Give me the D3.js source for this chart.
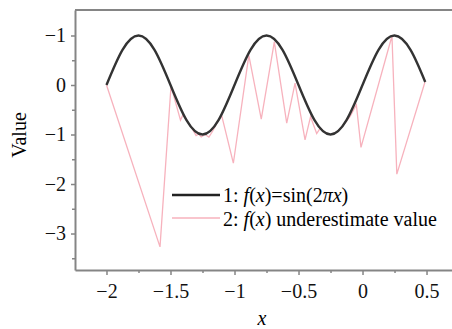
<!DOCTYPE html>
<html>
<head>
<meta charset="utf-8">
<script src="https://cdn.jsdelivr.net/npm/d3@7"></script>
<style>
  body { margin: 0; background: #fff; }
  svg text { font-family: "Liberation Serif", "DejaVu Serif", serif !important; }
</style>
</head>
<body>
<div class="chart"></div>
<script>
// black curve
const sinX = [-2, -1.875, -1.75, -1.625, -1.5, -1.375, -1.25, -1.125, -1, -0.875, -0.75, -0.625, -0.5, -0.375, -0.25, -0.125, 0, 0.125, 0.25, 0.375, 0.49];
const sinY = [0, 0.71, 1, 0.71, 0, -0.71, -1, -0.71, 0, 0.71, 1, 0.71, 0, -0.71, -1, -0.71, 0, 0.71, 1, 0.71, 0.06];

// pink "underestimate" polyline
const lowX = [-2, -1.582, -1.496, -1.422, -1.40, -1.36, -1.33, -1.30, -1.28, -1.26, -1.23, -1.20, -1.17, -1.14, -1.10, -1.009, -0.888, -0.791, -0.689, -0.592, -0.527, -0.449, -0.406, -0.358, -0.33, -0.30, -0.25, -0.20, -0.15, -0.098, -0.048, -0.012, 0.230, 0.268, 0.488];
const lowY = [0, -3.27, -0.02, -0.71, -0.59, -0.77, -0.88, -1.02, -0.99, -1.05, -1.0, -1.05, -0.93, -0.78, -0.62, -1.58, 0.6, -0.69, 0.87, -0.77, 0.04, -1.11, -0.64, -0.98, -0.87, -0.95, -1.0, -0.95, -0.81, -0.64, -0.40, -1.26, 0.99, -1.80, 0.06];

const xTicks = [-2, -1.5, -1, -0.5, 0, 0.5];
const xTickLabels = ["−2", "−1.5", "−1", "−0.5", "0", "0.5"];
const xMinor = [-1.75, -1.25, -0.75, -0.25, 0.25];
const yTicks = [1, 0, -1, -2, -3];
const yTickLabels = ["−1", "0", "−1", "−2", "−3"];
const yMinor = [0.5, -0.5, -1.5, -2.5, -3.5];

const W = 452, H = 329;
const m = { left: 75, right: 452, top: 10, bottom: 270 };
const serif = "'Liberation Serif', serif";

const svg = d3.select(".chart")
    .append("svg")
    .attr("width", W)
    .attr("height", H)
    .attr("font-family", serif);

const x = d3.scaleLinear().domain([-2.246, 0.699]).range([m.left, m.right]);
const y = d3.scaleLinear().domain([1.515, -3.737]).range([m.top, m.bottom]);

const axisColor = "#858585";

// top frame line
svg.append("line")
    .attr("x1", m.left).attr("x2", m.right)
    .attr("y1", m.top).attr("y2", m.top)
    .attr("stroke", axisColor).attr("stroke-width", 2);

function styleAxis(g) {
    g.attr("font-family", serif).attr("font-size", 20);
    g.select(".domain").attr("stroke", axisColor).attr("stroke-width", 2);
    g.selectAll(".tick line").attr("stroke", axisColor).attr("stroke-width", 1.5);
    g.selectAll(".tick text").attr("fill", "#111");
}

// minor ticks first
svg.append("g")
    .attr("transform", "translate(0," + m.bottom + ")")
    .call(d3.axisBottom(x).tickValues(xMinor).tickSize(3).tickFormat(""))
    .call(g => { g.select(".domain").remove(); g.selectAll("line").attr("stroke", axisColor).attr("stroke-width", 1.5); });

svg.append("g")
    .attr("transform", "translate(" + m.left + ",0)")
    .call(d3.axisLeft(y).tickValues(yMinor).tickSize(3).tickFormat(""))
    .call(g => { g.select(".domain").remove(); g.selectAll("line").attr("stroke", axisColor).attr("stroke-width", 1.5); });

svg.append("g")
    .attr("transform", "translate(0," + m.bottom + ")")
    .call(d3.axisBottom(x).tickValues(xTicks).tickSize(5).tickSizeOuter(0).tickPadding(9)
        .tickFormat((d, i) => xTickLabels[i]))
    .call(styleAxis);

svg.append("g")
    .attr("transform", "translate(" + m.left + ",0)")
    .call(d3.axisLeft(y).tickValues(yTicks).tickSize(4).tickSizeOuter(0).tickPadding(5)
        .tickFormat((d, i) => yTickLabels[i]))
    .call(styleAxis);

// pink underestimate line
const lowData = lowX.map((d, i) => [d, lowY[i]]);
svg.append("path")
    .datum(lowData)
    .attr("fill", "none")
    .attr("stroke", "#f7b2bd")
    .attr("stroke-width", 1.3)
    .attr("d", d3.line().x(d => x(d[0])).y(d => y(d[1])));

// black sine
const sinData = sinX.map((d, i) => [d, sinY[i]]);
svg.append("path")
    .datum(sinData)
    .attr("fill", "none")
    .attr("stroke", "#333")
    .attr("stroke-width", 2.4)
    .attr("d", d3.line().curve(d3.curveNatural).x(d => x(d[0])).y(d => y(d[1])));

// axis titles
svg.append("text")
    .attr("transform", "translate(26,135) rotate(-90)")
    .attr("text-anchor", "middle")
    .attr("font-size", 20)
    .text("Value");

svg.append("text")
    .attr("x", 262).attr("y", 325)
    .attr("text-anchor", "middle")
    .attr("font-size", 20)
    .attr("font-style", "italic")
    .text("x");

// legend
const legend = svg.append("g").attr("font-size", 20);
legend.append("line")
    .attr("x1", 172).attr("x2", 220).attr("y1", 195).attr("y2", 195)
    .attr("stroke", "#222").attr("stroke-width", 2.6);
legend.append("line")
    .attr("x1", 172).attr("x2", 220).attr("y1", 218).attr("y2", 218)
    .attr("stroke", "#f7b2bd").attr("stroke-width", 1.5);

const t1 = legend.append("text").attr("x", 223).attr("y", 202);
t1.append("tspan").text("1: ");
t1.append("tspan").attr("font-style", "italic").text("f");
t1.append("tspan").text("(");
t1.append("tspan").attr("font-style", "italic").text("x");
t1.append("tspan").text(")=sin(2");
t1.append("tspan").attr("font-style", "italic").text("π");
t1.append("tspan").attr("font-style", "italic").text("x");
t1.append("tspan").text(")");

const t2 = legend.append("text").attr("x", 223).attr("y", 226);
t2.append("tspan").text("2: ");
t2.append("tspan").attr("font-style", "italic").text("f");
t2.append("tspan").text("(");
t2.append("tspan").attr("font-style", "italic").text("x");
t2.append("tspan").text(") underestimate value");
</script>
</body>
</html>
